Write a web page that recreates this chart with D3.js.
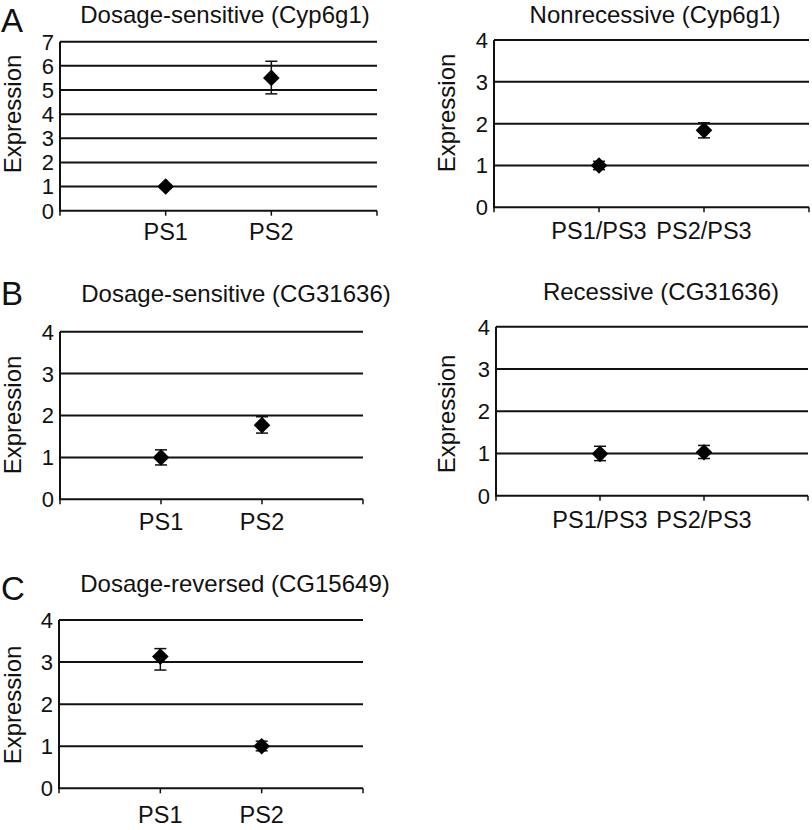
<!DOCTYPE html>
<html>
<head>
<meta charset="utf-8">
<script src="https://cdn.jsdelivr.net/npm/d3@7"></script>
<style>
  html, body { margin: 0; padding: 0; background: #fff; }
  svg { display: block; font-family: "Liberation Sans", Arial, sans-serif; }
</style>
</head>
<body>
<svg id="chart" width="812" height="830"></svg>
<script>
// ---------- data ----------
const catsSingle = ["PS1", "PS2"];
const catsHetero = ["PS1/PS3", "PS2/PS3"];

const titles = [
  "Dosage-sensitive (Cyp6g1)",
  "Nonrecessive (Cyp6g1)",
  "Dosage-sensitive (CG31636)",
  "Recessive (CG31636)",
  "Dosage-reversed (CG15649)"
];
const panelLetters = ["A", "", "B", "", "C"];
const yTickMax = [7, 4, 4, 4, 4];

// mean expression and error bar limits
const meanAL = [1.0, 5.5];   const lowAL = [0.92, 4.84]; const highAL = [1.08, 6.19];
const meanAR = [1.0, 1.84];  const lowAR = [0.9, 1.66];  const highAR = [1.1, 2.02];
const meanBL = [1.0, 1.77];  const lowBL = [0.82, 1.58]; const highBL = [1.18, 1.97];
const meanBR = [0.99, 1.03]; const lowBR = [0.83, 0.88]; const highBR = [1.17, 1.19];
const meanC  = [3.13, 1.0];  const lowC  = [2.81, 0.89]; const highC  = [3.32, 1.12];

// ---------- layout ----------
const layout = [
  {x0: 60,  x1: 377, yTop: 41.7,  yBot: 210.7, tX: 225, tY: 23,  lX: 1, lY: 32,  eX: 21,  eY: 114, xlY: 240},
  {x0: 494, x1: 809, yTop: 40,    yBot: 207.3, tX: 655, tY: 23,  lX: 0, lY: 0,   eX: 455, eY: 113, xlY: 239},
  {x0: 60,  x1: 363, yTop: 331.7, yBot: 499.3, tX: 236, tY: 302, lX: 1, lY: 305, eX: 21,  eY: 415, xlY: 530},
  {x0: 496, x1: 808, yTop: 326.7, yBot: 495.7, tX: 661, tY: 300, lX: 0, lY: 0,   eX: 455, eY: 414, xlY: 528},
  {x0: 59,  x1: 363, yTop: 620,   yBot: 788.3, tX: 235, tY: 592, lX: 1, lY: 600, eX: 21,  eY: 705, xlY: 823}
];
const panelData = [
  {cats: catsSingle, mean: meanAL, low: lowAL, high: highAL},
  {cats: catsHetero, mean: meanAR, low: lowAR, high: highAR},
  {cats: catsSingle, mean: meanBL, low: lowBL, high: highBL},
  {cats: catsHetero, mean: meanBR, low: lowBR, high: highBR},
  {cats: catsSingle, mean: meanC,  low: lowC,  high: highC}
];

const ink = "#111";
const svg = d3.select("#chart");

panelData.forEach((pd, i) => {
  const L = layout[i];
  const g = svg.append("g");

  const y = d3.scaleLinear().domain([0, yTickMax[i]]).range([L.yBot, L.yTop]);
  const x = d3.scalePoint().domain(pd.cats).range([L.x0, L.x1]).padding(1);
  const bounds = d3.scaleLinear().domain([0, 3]).range([L.x0, L.x1]);

  const ticks = d3.range(0, yTickMax[i] + 1);

  // gridlines (skip 0, drawn as axis)
  g.selectAll(".grid").data(ticks.filter(t => t > 0)).join("line")
    .attr("x1", L.x0).attr("x2", L.x1)
    .attr("y1", d => y(d)).attr("y2", d => y(d))
    .attr("stroke", ink).attr("stroke-width", 2);

  // y axis line
  g.append("line").attr("x1", L.x0).attr("x2", L.x0)
    .attr("y1", y(yTickMax[i])).attr("y2", y(0))
    .attr("stroke", ink).attr("stroke-width", 2);
  // x axis line
  g.append("line").attr("x1", L.x0 - 1).attr("x2", L.x1)
    .attr("y1", y(0)).attr("y2", y(0))
    .attr("stroke", ink).attr("stroke-width", 2);
  // x tick marks at category boundaries
  g.selectAll(".xt").data(d3.range(0, 4)).join("line")
    .attr("x1", d => bounds(d)).attr("x2", d => bounds(d))
    .attr("y1", y(0)).attr("y2", y(0) + 5)
    .attr("stroke", ink).attr("stroke-width", 1.5);

  // y tick labels
  g.selectAll(".yl").data(ticks).join("text")
    .attr("x", L.x0 - 6).attr("y", d => y(d)).attr("dy", "0.36em")
    .attr("text-anchor", "end").attr("font-size", 22).attr("fill", ink)
    .text(d => d);

  // x labels
  g.selectAll(".xl").data(pd.cats).join("text")
    .attr("x", d => x(d)).attr("y", L.xlY)
    .attr("text-anchor", "middle").attr("font-size", 23.5).attr("fill", ink)
    .text(d => d);

  // y axis title
  g.append("text")
    .attr("transform", `translate(${L.eX},${L.eY}) rotate(-90)`)
    .attr("text-anchor", "middle").attr("font-size", 24).attr("fill", ink)
    .text("Expression");

  // title
  g.append("text").attr("x", L.tX).attr("y", L.tY)
    .attr("text-anchor", "middle").attr("font-size", 24).attr("fill", ink)
    .text(titles[i]);

  // panel letter
  if (panelLetters[i]) {
    g.append("text").attr("x", L.lX).attr("y", L.lY)
      .attr("font-size", 33).attr("fill", ink)
      .text(panelLetters[i]);
  }

  // error bars
  const pts = pd.cats.map((c, k) => ({c, m: pd.mean[k], lo: pd.low[k], hi: pd.high[k]}));
  const eb = g.selectAll(".eb").data(pts).join("g");
  eb.append("line")
    .attr("x1", d => x(d.c)).attr("x2", d => x(d.c))
    .attr("y1", d => y(d.lo)).attr("y2", d => y(d.hi))
    .attr("stroke", ink).attr("stroke-width", 1.5);
  eb.append("line")
    .attr("x1", d => x(d.c) - 6).attr("x2", d => x(d.c) + 6)
    .attr("y1", d => y(d.hi)).attr("y2", d => y(d.hi))
    .attr("stroke", ink).attr("stroke-width", 1.5);
  eb.append("line")
    .attr("x1", d => x(d.c) - 6).attr("x2", d => x(d.c) + 6)
    .attr("y1", d => y(d.lo)).attr("y2", d => y(d.lo))
    .attr("stroke", ink).attr("stroke-width", 1.5);

  // diamond markers
  g.selectAll(".mk").data(pts).join("path")
    .attr("d", d3.symbol(d3.symbolSquare, 138)())
    .attr("transform", d => `translate(${x(d.c)},${y(d.m)}) rotate(45)`)
    .attr("fill", "#000");
});
</script>
</body>
</html>
